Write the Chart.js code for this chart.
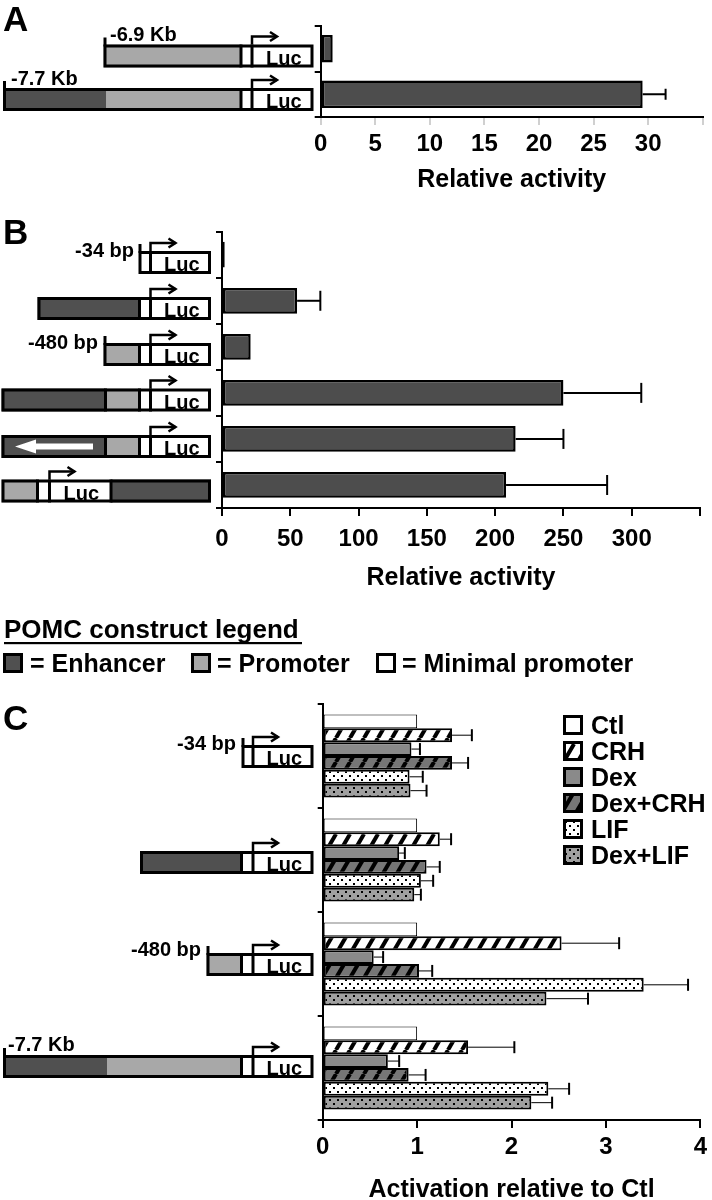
<!DOCTYPE html>
<html>
<head>
<meta charset="utf-8">
<script src="https://cdn.jsdelivr.net/npm/chart.js"></script>
<style>
  html, body { margin: 0; padding: 0; background: #fff; }
  body { width: 712px; height: 1200px; position: relative; overflow: hidden; font-family: "Liberation Sans", Arial, sans-serif; }
  canvas { position: absolute; left: 0; }
  #art { position: absolute; left: 0; top: 0; z-index: 2; }
</style>
</head>
<body>
<canvas id="chartA" width="712" height="195" style="top:0px"></canvas>
<canvas id="chartB" width="712" height="393" style="top:200px"></canvas>
<canvas id="chartC" width="712" height="515" style="top:690px"></canvas>
<svg id="art" width="712" height="1200" xmlns="http://www.w3.org/2000/svg"></svg>
<script>
// ---- data ----
const constructsA = ["-6.9 Kb", "-7.7 Kb"];
const activityA = [1.1, 29.5];
const activityAErr = [null, 31.6];

const constructsB = ["-34 bp", "", "-480 bp", "", "", ""];
const activityB = [2, 55, 21, 250, 215, 208];
const activityBErr = [null, 72, null, 307, 250, 282];

const constructsC = ["-34 bp", "", "-480 bp", "-7.7 Kb"];
const treatments = ["Ctl", "CRH", "Dex", "Dex+CRH", "LIF", "Dex+LIF"];
const ctl = [1, 1, 1, 1];
const crh = [1.37, 1.24, 2.53, 1.54];
const crhErr = [1.58, 1.36, 3.14, 2.03];
const dex = [0.94, 0.81, 0.54, 0.69];
const dexErr = [1.03, 0.87, 0.64, 0.81];
const dexCrh = [1.37, 1.1, 1.02, 0.91];
const dexCrhErr = [1.54, 1.24, 1.16, 1.09];
const lif = [0.92, 1.04, 3.4, 2.39];
const lifErr = [1.06, 1.17, 3.87, 2.61];
const dexLif = [0.93, 0.97, 2.37, 2.21];
const dexLifErr = [1.1, 1.04, 2.81, 2.43];

const FONT = '"Liberation Sans", Arial, sans-serif';
Chart.defaults.font.family = FONT;
Chart.defaults.color = "#000";

const BAR_DARK = "#4d4d4d";
const ENH = "#505050", PRO = "#a8a8a8";

// ---- fill patterns ----
function stripes(bg) {
  const c = document.createElement("canvas");
  c.width = 14; c.height = 24;
  const g = c.getContext("2d");
  g.fillStyle = bg; g.fillRect(0, 0, 14, 24);
  g.strokeStyle = "#000"; g.lineWidth = 4;
  for (let k = 0; k <= 2; k++) {
    g.beginPath(); g.moveTo(k * 14, 0); g.lineTo((k - 1) * 14, 24); g.stroke();
  }
  return g.createPattern(c, "repeat");
}
function dots(bg) {
  const c = document.createElement("canvas");
  c.width = 8; c.height = 8;
  const g = c.getContext("2d");
  g.fillStyle = bg; g.fillRect(0, 0, 8, 8);
  g.fillStyle = "#000";
  g.fillRect(1, 1, 2, 2); g.fillRect(5, 5, 2, 2);
  return g.createPattern(c, "repeat");
}

// error bars drawn off the x scale
const errorBars = {
  id: "errorBars",
  afterDatasetsDraw(chart, args, opts) {
    const ctx = chart.ctx, xs = chart.scales.x;
    chart.data.datasets.forEach((ds, di) => {
      if (!ds.errorTo) return;
      chart.getDatasetMeta(di).data.forEach((bar, i) => {
        const v = ds.errorTo[i];
        if (v == null) return;
        const xe = xs.getPixelForValue(v);
        ctx.save();
        ctx.strokeStyle = "#000";
        ctx.lineWidth = opts.lineWidth;
        ctx.beginPath(); ctx.moveTo(bar.x, bar.y); ctx.lineTo(xe, bar.y); ctx.stroke();
        ctx.lineWidth = opts.capWidth;
        ctx.beginPath(); ctx.moveTo(xe, bar.y - opts.cap / 2); ctx.lineTo(xe, bar.y + opts.cap / 2); ctx.stroke();
        ctx.restore();
      });
    });
  }
};

function catAxis(width, tick) {
  return {
    type: "category",
    offset: true,
    afterFit: (s) => { s.width = width; },
    ticks: { display: false },
    grid: { offset: true, drawOnChartArea: false, tickLength: tick, color: "#000", lineWidth: 2 },
    border: { color: "#000", width: 2 }
  };
}
function valAxis(max, step, hide, pad, height, title, tickColor) {
  return {
    min: 0, max: max,
    afterFit: (s) => { s.height = height; },
    ticks: {
      stepSize: step, autoSkip: false, maxRotation: 0, padding: pad, color: "#000",
      font: { size: 24, weight: "bold" },
      callback: (v) => (v === hide ? "" : v)
    },
    grid: { drawOnChartArea: false, tickLength: 8, color: tickColor, lineWidth: 2 },
    border: { color: "#000", width: 2 },
    title: { display: true, text: title, color: "#000", padding: 0, font: { size: 25, weight: "bold" } }
  };
}
const base = {
  indexAxis: "y",
  responsive: false,
  animation: false,
  events: []
};

new Chart(document.getElementById("chartA"), {
  type: "bar",
  data: {
    labels: constructsA,
    datasets: [{
      data: activityA, errorTo: activityAErr,
      backgroundColor: BAR_DARK, borderColor: "#000", borderWidth: 2.5, borderSkipped: false,
      barPercentage: 0.6, categoryPercentage: 1
    }]
  },
  options: {
    ...base,
    layout: { padding: { top: 26, right: 9.3, left: 0, bottom: 0 } },
    scales: { y: catAxis(320.7, 6), x: valAxis(35, 5, 35, 5, 78, "Relative activity", "#d0d0d0") },
    plugins: { legend: { display: false }, tooltip: { enabled: false }, errorBars: { lineWidth: 2, capWidth: 2, cap: 11 } }
  },
  plugins: [errorBars]
});

new Chart(document.getElementById("chartB"), {
  type: "bar",
  data: {
    labels: constructsB,
    datasets: [{
      data: activityB, errorTo: activityBErr,
      backgroundColor: BAR_DARK, borderColor: "#000", borderWidth: 2.5, borderSkipped: false,
      barPercentage: 0.56, categoryPercentage: 1
    }]
  },
  options: {
    ...base,
    layout: { padding: { top: 31.7, right: 12, left: 0, bottom: 0 } },
    scales: { y: catAxis(222, 6), x: valAxis(350, 50, 350, 9, 85, "Relative activity", "#000") },
    plugins: { legend: { display: false }, tooltip: { enabled: false }, errorBars: { lineWidth: 2, capWidth: 2, cap: 20 } }
  },
  plugins: [errorBars]
});

const seriesC = [ctl, crh, dex, dexCrh, lif, dexLif];
const errC = [null, crhErr, dexErr, dexCrhErr, lifErr, dexLifErr];
const fillsC = ["#ffffff", stripes("#ffffff"), "#8a8a8a", stripes("#767676"), dots("#ffffff"), dots("#a0a0a0")];

new Chart(document.getElementById("chartC"), {
  type: "bar",
  data: {
    labels: constructsC,
    datasets: treatments.map((t, i) => ({
      label: t,
      data: seriesC[i],
      errorTo: errC[i],
      backgroundColor: fillsC[i],
      borderColor: "#000",
      borderWidth: i === 0 ? 1 : 2,
      borderSkipped: false,
      barPercentage: 1,
      categoryPercentage: 0.8
    }))
  },
  options: {
    ...base,
    layout: { padding: { top: 14, right: 9.3, left: 0, bottom: 0 } },
    scales: { y: catAxis(322.7, 5), x: valAxis(4, 1, null, 5, 85, "Activation relative to Ctl", "#000") },
    plugins: { legend: { display: false }, tooltip: { enabled: false }, errorBars: { lineWidth: 1, capWidth: 2, cap: 12 } }
  },
  plugins: [errorBars]
});

// ---- construct drawings and legends (svg) ----
const NS = "http://www.w3.org/2000/svg";
const art = document.getElementById("art");
function el(tag, attrs, txt) {
  const e = document.createElementNS(NS, tag);
  for (const k in attrs) e.setAttribute(k, attrs[k]);
  if (txt != null) e.textContent = txt;
  art.appendChild(e);
  return e;
}
function label(x, y, txt, size, anchor) {
  return el("text", { x: x, y: y, "font-family": FONT, "font-weight": "bold", "font-size": size, "text-anchor": anchor || "start", fill: "#000" }, txt);
}

const defs = el("defs", {});
defs.innerHTML =
  '<pattern id="pCrh" width="14" height="24" patternUnits="userSpaceOnUse"><rect width="14" height="24" fill="#fff"/><path d="M0 0L-14 24M14 0L0 24M28 0L14 24" stroke="#000" stroke-width="4"/></pattern>' +
  '<pattern id="pDexCrh" width="14" height="24" patternUnits="userSpaceOnUse"><rect width="14" height="24" fill="#767676"/><path d="M0 0L-14 24M14 0L0 24M28 0L14 24" stroke="#000" stroke-width="4"/></pattern>' +
  '<pattern id="pLif" width="8" height="8" patternUnits="userSpaceOnUse"><rect width="8" height="8" fill="#fff"/><rect x="1" y="1" width="2" height="2"/><rect x="5" y="5" width="2" height="2"/></pattern>' +
  '<pattern id="pDexLif" width="8" height="8" patternUnits="userSpaceOnUse"><rect width="8" height="8" fill="#a0a0a0"/><rect x="1" y="1" width="2" height="2"/><rect x="5" y="5" width="2" height="2"/></pattern>';

const FILL = { enh: ENH, pro: PRO, min: "#fff", luc: "#fff" };
function construct(top, parts, opts) {
  opts = opts || {};
  const h = 23;
  parts.forEach(([k, a, b]) => el("rect", { x: a, y: top, width: b - a, height: h, fill: FILL[k] }));
  for (let i = 1; i < parts.length; i++) {
    if (opts.soft && parts[i - 1][0] === "enh" && parts[i][0] === "pro") continue;
    const x = parts[i][1];
    el("line", { x1: x, y1: top, x2: x, y2: top + h, stroke: "#000", "stroke-width": 3 });
  }
  const x0 = parts[0][1], x1 = parts[parts.length - 1][2];
  el("rect", { x: x0 + 1.5, y: top + 1.5, width: x1 - x0 - 3, height: h - 3, fill: "none", stroke: "#000", "stroke-width": 3 });
  if (opts.bracket) el("line", { x1: x0 + 1.5, y1: top - 7, x2: x0 + 1.5, y2: top + 2, stroke: "#000", "stroke-width": 3 });
  parts.forEach(([k, a, b]) => {
    if (k !== "luc") return;
    label((a + b) / 2 + 1, top + 20, "Luc", 20, "middle");
    const ya = top - 8, xe = a + 25;
    el("path", { d: `M${a} ${top} V${ya} H${xe}`, fill: "none", stroke: "#000", "stroke-width": 2.5 });
    el("path", { d: `M${xe - 7} ${ya - 4.5} L${xe} ${ya} L${xe - 7} ${ya + 4.5}`, fill: "none", stroke: "#000", "stroke-width": 2.5 });
  });
  if (opts.reverse) {
    const c = top + 11.5;
    el("polygon", { points: `15,${c} 36,${c - 7} 36,${c - 3} 93,${c - 3} 93,${c + 3} 36,${c + 3} 36,${c + 7}`, fill: "#fff" });
  }
}

// panel letters
label(3, 31, "A", 35);
label(3, 244, "B", 35);
label(3, 730, "C", 35);

// panel A constructs
construct(44.5, [["pro", 103.5, 241], ["min", 241, 252], ["luc", 252, 313.5]], { bracket: true });
construct(88, [["enh", 3, 106.5], ["pro", 106.5, 241], ["min", 241, 252], ["luc", 252, 313.5]], { bracket: true, soft: true });
label(110, 41, constructsA[0], 20);
label(11, 85, constructsA[1], 20);

// panel B constructs
construct(251, [["min", 138.5, 150.5], ["luc", 150.5, 211]], { bracket: true });
construct(297, [["enh", 37.5, 139.5], ["min", 139.5, 150.5], ["luc", 150.5, 211]]);
construct(343, [["pro", 103.5, 139.5], ["min", 139.5, 150.5], ["luc", 150.5, 211]], { bracket: true });
construct(388.5, [["enh", 1.5, 105.5], ["pro", 105.5, 139.5], ["min", 139.5, 150.5], ["luc", 150.5, 211]]);
construct(435, [["enh", 1.5, 105.5], ["pro", 105.5, 139.5], ["min", 139.5, 150.5], ["luc", 150.5, 211]], { reverse: true });
construct(479.5, [["pro", 1.5, 37.5], ["min", 37.5, 49.5], ["luc", 49.5, 111], ["enh", 111, 211]]);
label(134, 257, constructsB[0], 20, "end");
label(98, 349, constructsB[2], 20, "end");

// construct legend
label(4, 638, "POMC construct legend", 26);
el("rect", { x: 4, y: 642, width: 298, height: 2.2, fill: "#000" });
[[4.5, ENH, 30, "= Enhancer"], [192.5, PRO, 217, "= Promoter"], [377.5, "#fff", 402, "= Minimal promoter"]].forEach(([x, f, tx, t]) => {
  el("rect", { x: x, y: 654.5, width: 17, height: 17, fill: f, stroke: "#000", "stroke-width": 3 });
  label(tx, 671.5, t, 25);
});

// panel C constructs
construct(745, [["min", 241.5, 253], ["luc", 253, 313.5]], { bracket: true });
construct(851, [["enh", 140, 241.5], ["min", 241.5, 253], ["luc", 253, 313.5]]);
construct(953, [["pro", 206.5, 241.5], ["min", 241.5, 253], ["luc", 253, 313.5]], { bracket: true });
construct(1055, [["enh", 3, 107], ["pro", 107, 241.5], ["min", 241.5, 253], ["luc", 253, 313.5]], { bracket: true, soft: true });
label(236, 750, constructsC[0], 20, "end");
label(201, 956, constructsC[2], 20, "end");
label(8, 1051, constructsC[3], 20);

// treatment legend
const legendFills = ["#fff", "url(#pCrh)", "#8a8a8a", "url(#pDexCrh)", "url(#pLif)", "url(#pDexLif)"];
treatments.forEach((t, i) => {
  const cy = 725 + i * 26;
  el("rect", { x: 564.5, y: cy - 8.5, width: 17, height: 17, fill: legendFills[i], stroke: "#000", "stroke-width": 3 });
  label(591, cy + 9, t, 25);
});
</script>
</body>
</html>
